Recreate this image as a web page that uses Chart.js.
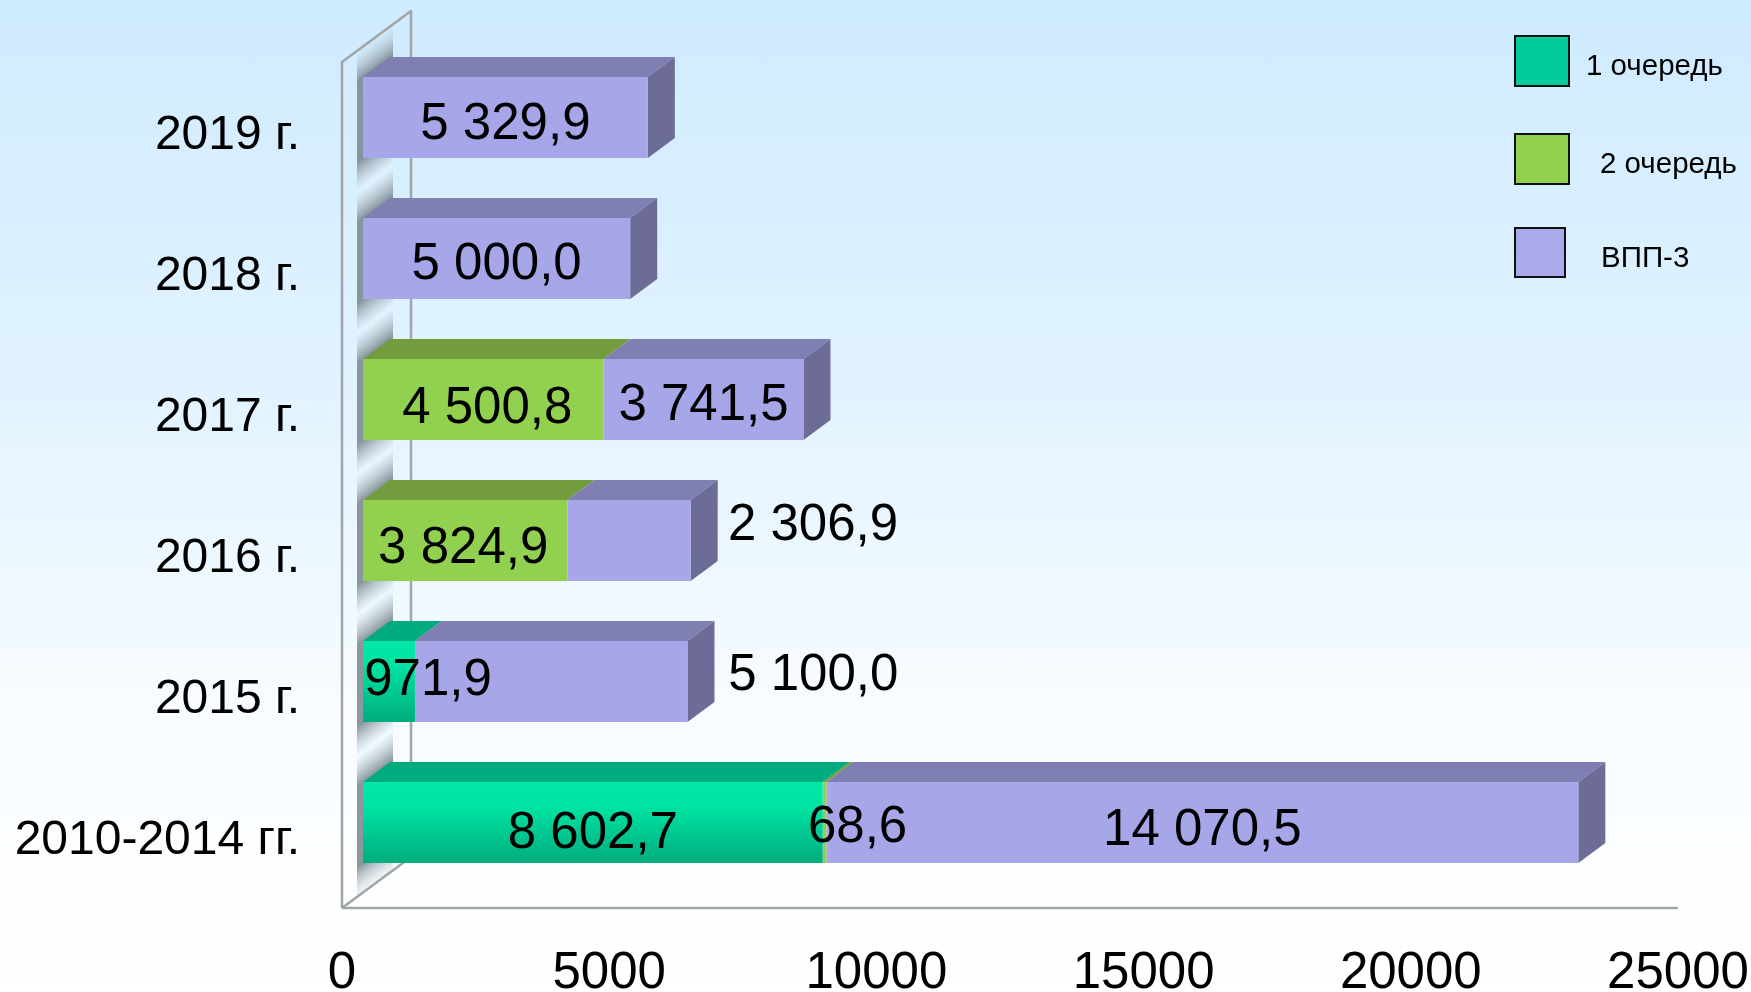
<!DOCTYPE html>
<html><head><meta charset="utf-8">
<style>html,body{margin:0;padding:0;width:1751px;height:992px;overflow:hidden;background:linear-gradient(180deg,#cfebff 0%,#e2f3ff 40%,#f8fcff 72%,#ffffff 100%)}
#w{position:absolute;left:0;top:0;width:1751px;height:992px}</style>
<script src="https://cdn.jsdelivr.net/npm/chart.js@4/dist/chart.umd.min.js"></script>
</head><body><div id="w"><canvas id="c" width="1751" height="992"></canvas></div>
<script>
const categories=['2019 г.','2018 г.','2017 г.','2016 г.','2015 г.','2010-2014 гг.'];
const queue1=[null,null,null,null,971.9,8602.7];
const queue2=[null,null,4500.8,3824.9,null,68.6];
const vpp3=[5329.9,5000.0,3741.5,2306.9,5100.0,14070.5];
const seriesNames=['1 очередь','2 очередь','ВПП-3'];
const xTicks=[0,5000,10000,15000,20000,25000];

const FONT='"Liberation Sans",Arial,sans-serif';
const DX=27,DY=20,BAR_FRAC=.574;
const faces=[{top:'#00ac7f',side:'#008a66'},{top:'#739c3e',side:'#5e8033'},{top:'#7f7fb2',side:'#6c6c96'}];
const legendColors=['#00cc99','#92d050','#aaaaea'];
const legendPos=[{x:1515,y:36,w:54,h:50,tx:1586,ty:67},{x:1515,y:134,w:54,h:50,tx:1600,ty:165},{x:1515,y:228,w:50,h:49,tx:1601,ty:259}];
// label offsets from the centre of each segment [dataset][category]
const labelOffsets=[
 [null,null,null,null,[39,-1],[0,11]],
 [null,null,[4,9],[-2,8],null,[33,5]],
 [[0,7],[0,6],[0,6],[184,-15],[262,-6],[0,8]]
];
function fmt(v){const p=v.toFixed(1).split('.');return p[0].replace(/\B(?=(\d{3})+$)/g,' ')+','+p[1];}

const scene={id:'scene',
 beforeDatasetsDraw(ch){
  const c=ch.ctx,xs=ch.scales.x;
  const L=xs.left-21,wx=L+69,top=11,lt=62,fl=908,R=1678;
  const metas=ch.getSortedVisibleDatasetMetas();
  c.save();
  // wall shading: bands skewed along the depth direction
  const bars=metas[2].data;
  const skew=DY/DX, Ya=15, Yb=930;
  const t=Y=>Math.max(0,Math.min(1,(Y-Ya)/(Yb-Ya)));
  const dark='rgba(112,126,132,.8)',light='rgba(232,246,255,.5)',none='rgba(232,246,255,0)';
  c.save();
  c.beginPath();
  c.moveTo(L+15,lt-11);c.lineTo(L+51,top+13);c.lineTo(L+51,fl-39);c.lineTo(L+15,fl-11);c.closePath();c.clip();
  c.transform(1,-skew,0,1,0,skew*xs.left);
  const g=c.createLinearGradient(0,Ya,0,Yb);
  const first=bars[0], lastBar=bars[bars.length-1];
  g.addColorStop(t(first.y-first.height/2-38),none);
  bars.forEach((b,i)=>{
    const y0=b.y-b.height/2,y1=b.y+b.height/2;
    g.addColorStop(t(y0),dark);g.addColorStop(t(y1),dark);
    if(i<bars.length-1){const n=bars[i+1];g.addColorStop(t((y1+n.y-n.height/2)/2),light);}
  });
  g.addColorStop(t(lastBar.y+lastBar.height/2+40),none);
  c.fillStyle=g;
  c.fillRect(L+15,Ya,36,Yb-Ya);
  c.restore();
  // wall and floor lines
  c.strokeStyle='#a2a5a6';c.lineWidth=2.5;c.lineJoin='round';
  c.beginPath();c.moveTo(L,fl);c.lineTo(L,lt);c.lineTo(wx,top);c.lineTo(wx,fl-51);c.lineTo(L,fl);c.stroke();
  c.beginPath();c.moveTo(L,fl);c.lineTo(R,fl);c.stroke();
  // 3D faces
  metas.forEach((m,ds)=>{
    m.data.forEach((b,i)=>{
      const v=ch.data.datasets[ds].data[i];
      if(v==null)return;
      const xa=Math.min(b.x,b.base),xb=Math.max(b.x,b.base),y0=b.y-b.height/2;
      c.fillStyle=faces[ds].top;
      c.beginPath();c.moveTo(xa,y0);c.lineTo(xa+DX,y0-DY);c.lineTo(xb+DX,y0-DY);c.lineTo(xb,y0);c.closePath();c.fill();
    });
  });
  metas.forEach((m,ds)=>{
    m.data.forEach((b,i)=>{
      const v=ch.data.datasets[ds].data[i];
      if(v==null)return;
      let last=true;
      for(let k=ds+1;k<metas.length;k++)if(ch.data.datasets[k].data[i]!=null)last=false;
      if(!last)return;
      const xb=Math.max(b.x,b.base),y0=b.y-b.height/2,y1=b.y+b.height/2;
      c.fillStyle=faces[ds].side;
      c.beginPath();c.moveTo(xb,y0);c.lineTo(xb+DX,y0-DY);c.lineTo(xb+DX,y1-DY);c.lineTo(xb,y1);c.closePath();c.fill();
    });
  });
  c.restore();
 },
 afterDatasetsDraw(ch){
  const c=ch.ctx;c.save();
  c.font='51px '+FONT;c.fillStyle='#000';c.textAlign='center';c.textBaseline='middle';
  ch.getSortedVisibleDatasetMetas().forEach((m,ds)=>{
    m.data.forEach((b,i)=>{
      const v=ch.data.datasets[ds].data[i];
      if(v==null)return;
      const off=labelOffsets[ds][i]||[0,0];
      c.fillText(fmt(v),(b.x+b.base)/2+off[0],b.y+off[1]);
    });
  });
  // legend
  c.textAlign='left';c.font='29.5px '+FONT;
  seriesNames.forEach((n,i)=>{
    const p=legendPos[i];
    c.fillStyle=legendColors[i];c.strokeStyle='#111';c.lineWidth=2;
    c.fillRect(p.x,p.y,p.w,p.h);c.strokeRect(p.x,p.y,p.w,p.h);
    c.fillStyle='#000';c.fillText(n,p.tx,p.ty);
  });
  c.restore();
 }
};
function tealGrad(ctx){
  const ys=ctx.chart.scales.y;
  if(!ys||ctx.dataIndex==null)return '#00d69a';
  const cy=ys.getPixelForValue(ctx.dataIndex),h=ys.height/categories.length*BAR_FRAC;
  if(!isFinite(cy)||!isFinite(h))return '#00d69a';
  const g=ctx.chart.ctx.createLinearGradient(0,cy-h/2,0,cy+h/2);
  g.addColorStop(0,'#00e8a6');g.addColorStop(.3,'#00e3a2');g.addColorStop(1,'#00ad7e');
  return g;
}
new Chart(document.getElementById('c'),{
 type:'bar',
 data:{labels:categories,datasets:[
  {label:seriesNames[0],data:queue1,backgroundColor:tealGrad,categoryPercentage:BAR_FRAC,barPercentage:1},
  {label:seriesNames[1],data:queue2,backgroundColor:'#92d050',categoryPercentage:BAR_FRAC,barPercentage:1},
  {label:seriesNames[2],data:vpp3,backgroundColor:'#a6a6e8',categoryPercentage:BAR_FRAC,barPercentage:1}
 ]},
 plugins:[scene],
 options:{
  indexAxis:'y',responsive:false,animation:false,devicePixelRatio:1,
  layout:{padding:{top:47,right:52,left:0,bottom:0}},
  plugins:{legend:{display:false},tooltip:{enabled:false},title:{display:false}},
  scales:{
   x:{stacked:true,min:0,max:25000,
      afterBuildTicks(s){s.ticks=xTicks.map(v=>({value:v}));},
      afterFit(s){s.height=99;s.paddingLeft=0;s.paddingRight=0;},
      grid:{display:false,drawTicks:false},border:{display:false},
      ticks:{color:'#000',font:{family:FONT,size:51},padding:50,labelOffset:-21,maxRotation:0,autoSkip:false,callback:v=>String(v)}},
   y:{stacked:true,
      afterFit(s){s.width=363;s.paddingTop=0;s.paddingBottom=0;},
      grid:{display:false,drawTicks:false},border:{display:false},
      ticks:{color:'#000',font:{family:FONT,size:48},padding:63,labelOffset:18,autoSkip:false}}
  }
 }
});
</script></body></html>
